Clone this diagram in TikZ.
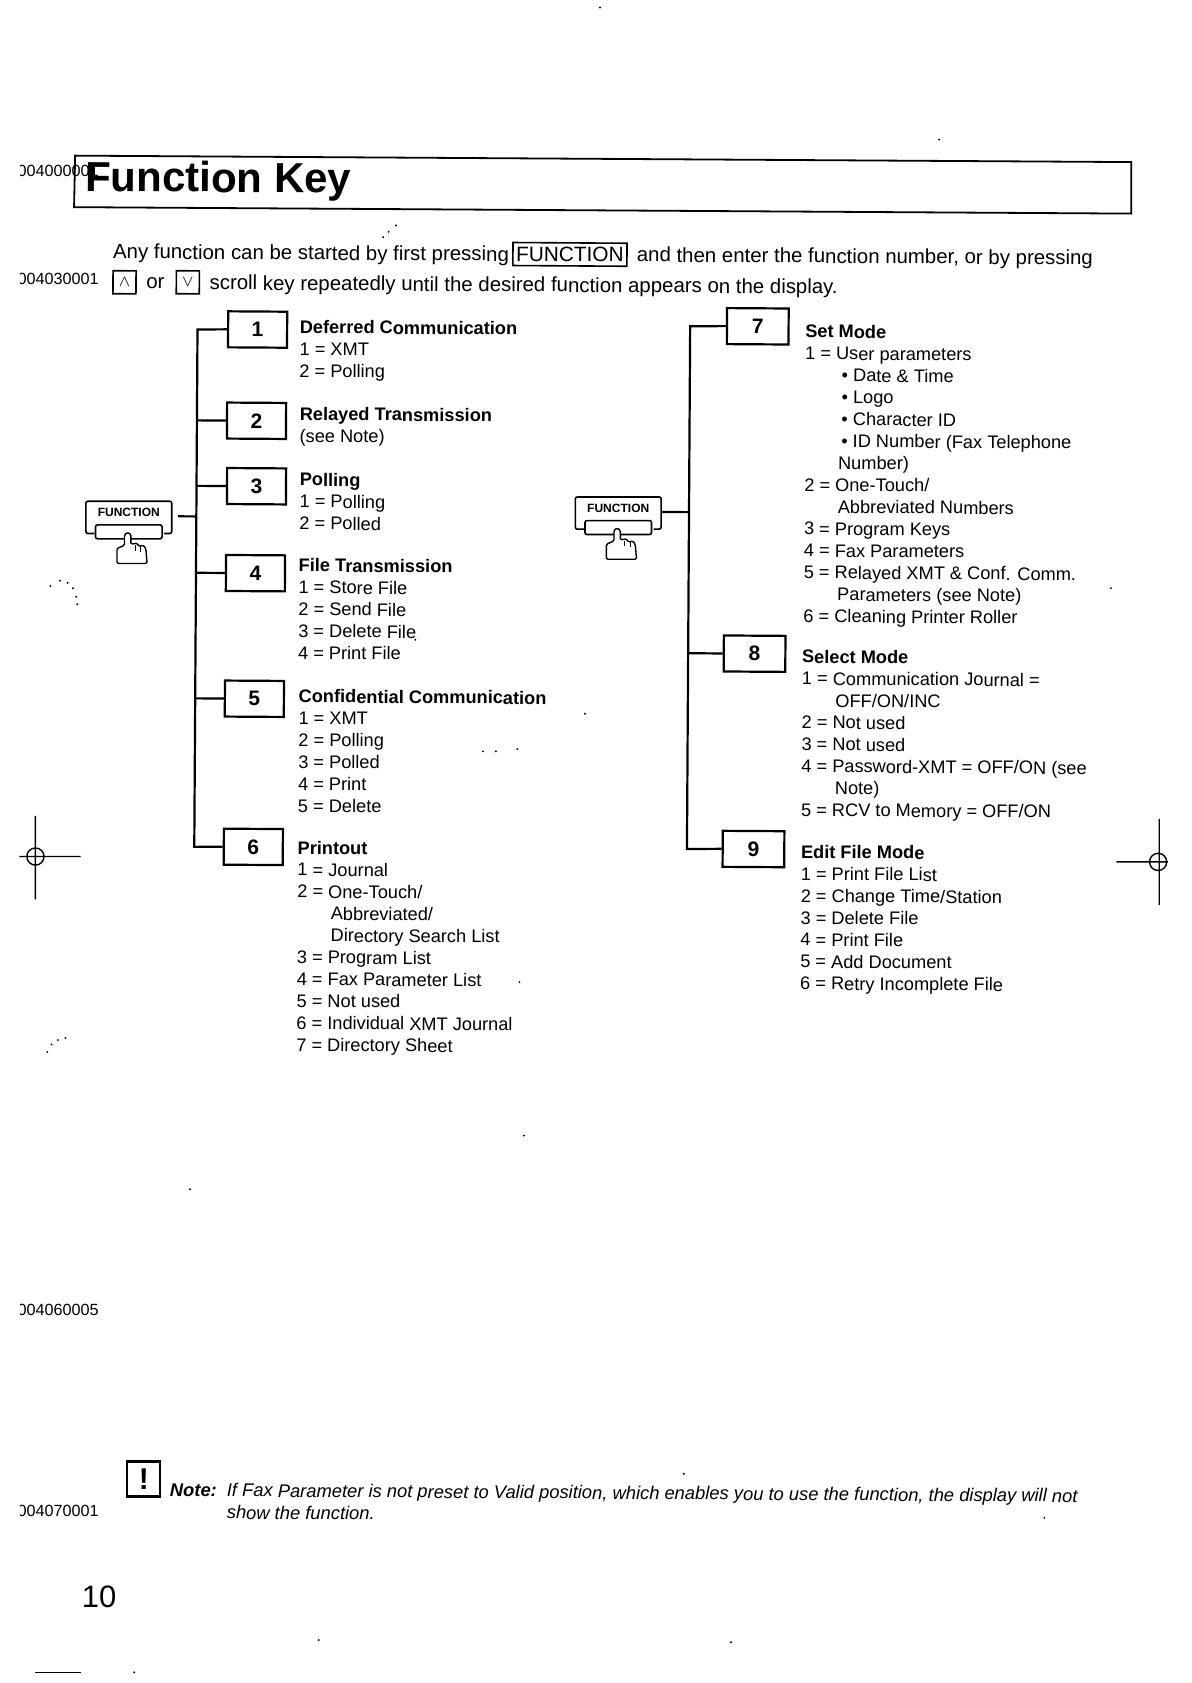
\documentclass[tikz,border=0pt]{standalone}
\usepackage{fontspec}
\setmainfont{Liberation Sans}
\usepackage{tikz}
\usetikzlibrary{
	positioning,
	calc
}

\newcommand{\subline}{\hspace*{16.8pt}}

\tikzset{
  scan/.style={rotate=-0.37},
  entry/.style={scan, anchor=north west, inner sep=0pt, align=left, font=\fontsize{9.1}{10.95}\selectfont},
  plain/.style={scan, anchor=west, inner sep=0pt, font=\fontsize{10.2}{12}\selectfont},
  fnbox/.style={scan, draw, line width=1.1pt, minimum width=29.5pt, minimum height=18pt, inner sep=0pt, font=\fontsize{10.5}{12}\bfseries\selectfont},
  fnboxwide/.style={fnbox, minimum width=30.8pt},
  tree/.style={line width=1.1pt},
  codetag/.style={anchor=west, inner sep=0pt, font=\fontsize{8.1}{9}\selectfont},
  keycap/.style={scan, draw, line width=0.8pt, inner sep=0pt, minimum height=11.5pt},
  notetext/.style={scan, anchor=west, inner sep=0pt, font=\fontsize{9.17}{10}\itshape\selectfont}
}

\begin{document}
\begin{tikzpicture}[x=0.5365pt, y=-0.5365pt]
\useasboundingbox (0,0) rectangle (1110,1568);

% Title bar
\coordinate (titleA) at (70,145);
\coordinate (titleB) at (1054,151);
\coordinate (titleC) at (1054,199);
\coordinate (titleD) at (69,193);
\draw[line width=0.9pt] (titleA) -- (titleB) -- (titleC) -- (titleD) -- cycle;

% Codes at the page edge
\begin{scope}
\clip (19,0) rectangle (200,1568);
\foreach \cy/\code in {159/004000001, 260/004030001, 1220/004060005, 1408/004070001} {
    \node[codetag] (code\cy) at (16,\cy) {\code};
}
\end{scope}
\node[scan, anchor=west, inner sep=0pt, font=\fontsize{21}{24}\bfseries\selectfont] (title) at (79,168) {Function Key};

% Intro lines
\node[plain] (introA) at (105,236) {Any function can be started by first pressing};
\node[keycap, minimum width=57pt, font=\fontsize{10.4}{12}\selectfont] (keyfn) at (531,237) {FUNCTION};
\node[plain] (introB) at (593,239) {and then enter the function number, or by pressing};
\node[keycap, minimum width=11.5pt, font=\fontsize{8}{9}\selectfont] (keyup) at (116,263) {$\wedge$};
\node[plain] (introC) at (136,264) {or};
\node[keycap, minimum width=11.5pt, font=\fontsize{8}{9}\selectfont] (keydown) at (175,263) {$\vee$};
\node[plain] (introD) at (195,265) {scroll key repeatedly until the desired function appears on the display.};

% Left number boxes
\foreach \n/\x/\y in {1/240/307, 2/239/392, 3/239/453, 4/238/534, 5/237/651, 6/236/789} {
    \node[fnbox] (box\n) at (\x,\y) {\n};
}

% Right number boxes
\foreach \n/\x/\y in {7/706/304, 8/703/609, 9/702/791} {
    \node[fnboxwide] (box\n) at (\x,\y) {\n};
}

% Function keys with the hand
\foreach \name/\x/\y in {fnA/120/481, fnB/576/477} {
\begin{scope}[shift={(\x,\y)}]
    \node[inner sep=0pt, minimum width=43.5pt, minimum height=15.5pt, font=\fontsize{6}{7}\bfseries\selectfont, text depth=0pt] (\name) at (0,0) {\raisebox{3.5pt}{FUNCTION}};
    \draw[line width=0.8pt, rounded corners=1pt] (-32,16) -- (-40,16) -- (-40,-14) -- (40,-14) -- (40,16) -- (33,16);
    \draw[line width=0.8pt, rounded corners=1pt, fill=white] (-31,8) rectangle (31,21);
    % hand
    \begin{scope}[shift={(2,0)}]
    \draw[line width=0.7pt, fill=white, rounded corners=0.7pt] (-6,44) -- (-13,44) -- (-13,30) -- (-6,27) -- (-6,17) -- (-3,15) -- (0,17) -- (0,26) -- (6,25) -- (7,28) -- (12,27) -- (14,31) -- (15,44) -- cycle;
    \draw[line width=0.5pt] (4,27) -- (4,32) (9,28) -- (9,33);
    \end{scope}
\end{scope}
}

% Left tree
\coordinate (trunkAtop) at (184,307);
\coordinate (trunkAend) at (181,789);
\draw[tree] (box1.west) -- (trunkAtop) -- (trunkAend) -- (box6.west);
\foreach \n in {2,3,4,5} {
    \draw[tree] (box\n.west) -- ($(trunkAtop)!(box\n.west)!(trunkAend)$);
}
\draw[tree, shorten <=2.6pt] (fnA.east) -- ($(trunkAtop)!(fnA.east)!(trunkAend)$);

% Right tree
\coordinate (trunkBtop) at (643,304);
\coordinate (trunkBend) at (640,791);
\draw[tree] (box7.west) -- (trunkBtop) -- (trunkBend) -- (box9.west);
\draw[tree] (box8.west) -- ($(trunkBtop)!(box8.west)!(trunkBend)$);
\draw[tree] (fnB.east) -- ($(trunkBtop)!(fnB.east)!(trunkBend)$);

% Left column text
\node[entry] (textA) at (279,298) {\textbf{Deferred Communication}\\1 = XMT\\2 = Polling};
\node[entry] (textB) at (279,379) {\textbf{Relayed Transmission}\\(see Note)};
\node[entry] (textC) at (279,440) {\textbf{Polling}\\1 = Polling\\2 = Polled};
\node[entry] (textD) at (278,520) {\textbf{File Transmission}\\1 = Store File\\2 = Send File\\3 = Delete File\\4 = Print File};
\node[entry] (textE) at (278,642) {\textbf{Confidential Communication}\\1 = XMT\\2 = Polling\\3 = Polled\\4 = Print\\5 = Delete};
\node[entry] (textF) at (277,783) {\textbf{Printout}\\1 = Journal\\2 = One-Touch/\\\subline Abbreviated/\\\subline Directory Search List\\3 = Program List\\4 = Fax Parameter List\\5 = Not used\\6 = Individual XMT Journal\\7 = Directory Sheet};

% Right column text
\node[entry] (textG) at (750,302) {\textbf{Set Mode}\\1 = User parameters\\\subline$\,$• Date \& Time\\\subline$\,$• Logo\\\subline$\,$• Character ID\\\subline$\,$• ID Number (Fax Telephone\\\subline Number)\\2 = One-Touch/\\\subline Abbreviated Numbers\\3 = Program Keys\\4 = Fax Parameters\\5 = Relayed XMT \& Conf. Comm.\\\subline Parameters (see Note)\\6 = Cleaning Printer Roller};
\node[entry] (textH) at (747,605) {\textbf{Select Mode}\\1 = Communication Journal =\\\subline OFF/ON/INC\\2 = Not used\\3 = Not used\\4 = Password-XMT = OFF/ON (see\\\subline Note)\\5 = RCV to Memory = OFF/ON};
\node[entry] (textI) at (746,787) {\textbf{Edit File Mode}\\1 = Print File List\\2 = Change Time/Station\\3 = Delete File\\4 = Print File\\5 = Add Document\\6 = Retry Incomplete File};

% Note at the bottom
\node[draw, line width=1.1pt, minimum width=16.5pt, minimum height=17.5pt, inner sep=0pt, font=\fontsize{15}{16}\bfseries\selectfont] (warn) at (134,1378) {!};
\node[notetext, font=\fontsize{9.17}{10}\bfseries\itshape\selectfont] (notelabel) at (158,1388) {Note:};
\node[notetext] (noteA) at (211,1390) {If Fax Parameter is not preset to Valid position, which enables you to use the function, the display will not};
\node[notetext] (noteB) at (211,1409) {show the function.};

% Page number
\node[anchor=west, inner sep=0pt, font=\fontsize{15.5}{18}\selectfont] (pageno) at (76,1488) {10};

% Registration marks
\draw[line width=0.7pt] (33,760) -- (33,838) (18,798) -- (75,798) (33,798) circle[radius=8];
\draw[line width=0.7pt] (1080,763) -- (1080,843) (1040,803) -- (1088,803) (1079,803) circle[radius=8];
\draw[line width=0.7pt] (33,1558) -- (75,1558);

% Dust from the scan
\foreach \x/\y in {559/7, 875/130, 369/210, 362/216, 357/221, 387/596, 545/665, 450/700, 462/700, 482/698, 1035/548, 484/915, 488/1058, 177/1108, 637/1373, 973/1414, 297/1528, 681/1530, 125/1558, 47/546, 56/541, 63/543, 68/548, 71/556, 72/563, 44/980, 48/973, 54/969, 61/967} {
    \fill (\x,\y) circle[radius=1];
}

\end{tikzpicture}
\end{document}
